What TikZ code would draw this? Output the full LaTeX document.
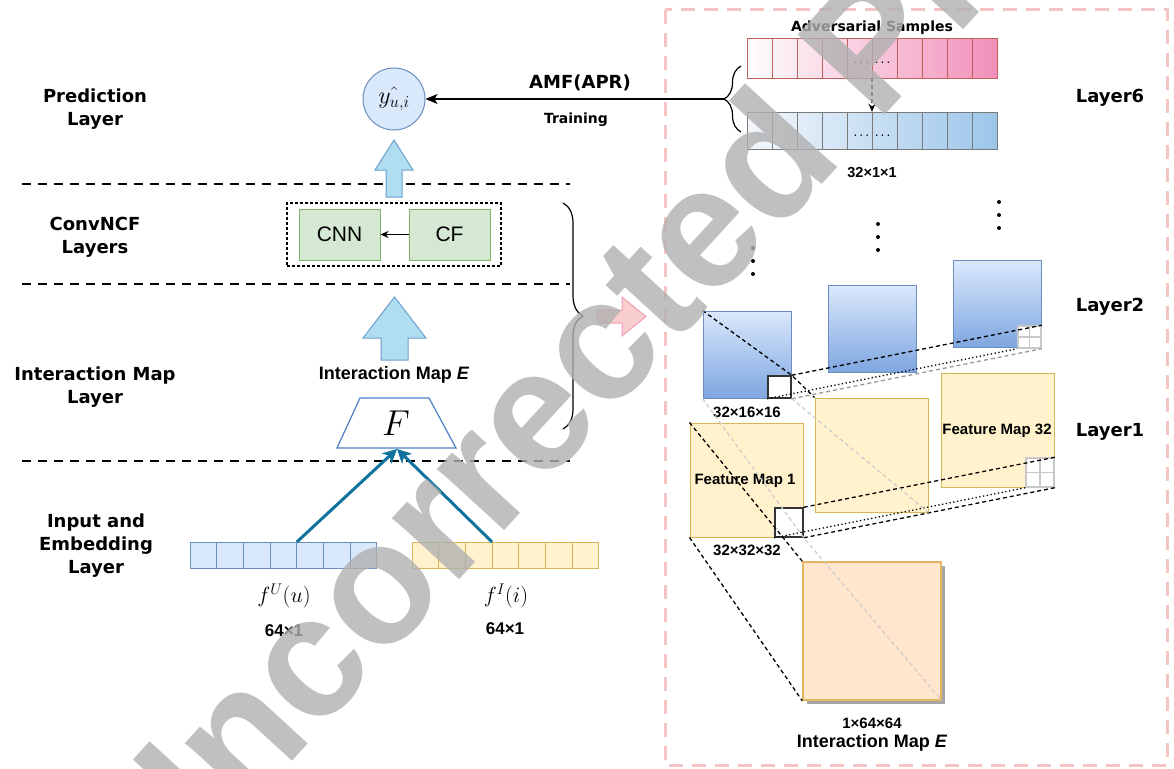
\RequirePackage{fix-cm}
\documentclass[tikz,border=0pt]{standalone}
\usepackage{fontspec}
\setmainfont{DejaVu Sans}
\newfontfamily\lib{Liberation Sans}
\usetikzlibrary{arrows.meta,decorations.pathreplacing}
\definecolor{bluefill}{HTML}{DAE8FC}
\definecolor{bluedraw}{HTML}{6C8EBF}
\definecolor{greenfill}{HTML}{D5E8D4}
\definecolor{greendraw}{HTML}{82B366}
\definecolor{yelfill}{HTML}{FFF2CC}
\definecolor{yeldraw}{HTML}{D6B656}
\definecolor{arrowfill}{HTML}{B1DDF0}
\definecolor{arrowdraw}{HTML}{6A9FD0}
\definecolor{trapdraw}{HTML}{4A80C6}
\definecolor{myteal}{HTML}{10739E}
\definecolor{pinkfill}{HTML}{F8CECC}
\definecolor{pinkdraw}{HTML}{F19CBB}
\definecolor{framepink}{HTML}{F5C4C4}
\definecolor{orfill}{HTML}{FFE6CC}
\definecolor{ordraw}{HTML}{E5B55F}
\definecolor{advdraw}{HTML}{C0605C}
\definecolor{advright}{HTML}{F190BA}
\definecolor{vecleft}{HTML}{F4F7FB}
\definecolor{vecright}{HTML}{9CC6EA}
\definecolor{vecdraw}{HTML}{7A7A7A}
\definecolor{ltwobottom}{HTML}{7EA6E0}
\definecolor{gridgray}{HTML}{C8C8C8}
\definecolor{midgray}{HTML}{9A9A9A}
\definecolor{lightgray}{HTML}{CCCCCC}
\definecolor{wmgray}{HTML}{B0B0B0}
\begin{document}
\begin{tikzpicture}[x=1pt,y=-1pt,
  sepline/.style={line width=2pt, dash pattern=on 9pt off 7pt},
  lbl/.style={align=center, inner sep=0pt, font=\fontsize{18}{23}\selectfont\bfseries},
  dv/.style={inner sep=0pt, font=\fontsize{#1}{#1}\selectfont\bfseries},
  lb/.style={inner sep=0pt, font=\lib\fontsize{#1}{#1}\selectfont\bfseries},
  mth/.style={inner sep=0pt, font=\fontsize{#1}{#1}\selectfont},
  blockarrow/.style={fill=arrowfill, draw=arrowdraw, line width=1pt, line join=miter},
  gbox/.style={draw=greendraw, fill=greenfill, line width=1pt, minimum width=81pt, minimum height=51pt, inner sep=0pt, font=\lib\fontsize{21}{21}\selectfont},
  tealarrow/.style={draw=myteal, line width=3pt, -{Stealth[length=14pt,width=14pt,inset=4pt]}},
  ltwosq/.style={draw=bluedraw, line width=1pt, top color=bluefill, bottom color=ltwobottom, minimum width=88pt, minimum height=87pt, inner sep=0pt},
  lonesq/.style={draw=yeldraw, line width=1pt, fill=yelfill, minimum width=113pt, minimum height=114pt, inner sep=0pt},
  smallbox/.style={draw=black!80, line width=1.5pt, fill=white, inner sep=0pt},
  gridbox/.style={draw=gridgray, line width=1.5pt, fill=white, inner sep=0pt},
  blackdash/.style={black, line width=1.3pt, dash pattern=on 4pt off 3pt},
  dotline/.style={black, line width=1.3pt, dash pattern=on 1.3pt off 2.5pt},
  graydash/.style={midgray, line width=1.3pt, dash pattern=on 4pt off 3pt},
  lgraydash/.style={lightgray, line width=1.2pt, dash pattern=on 4pt off 3pt},
  vdot/.style={circle, fill=black, inner sep=0pt, minimum size=4pt}
]
\useasboundingbox (0,0) rectangle (1174,768);

% ---------- separators ----------
\draw[sepline] (22,184) -- (570,184);
\draw[sepline] (22,284) -- (570,284);
\draw[sepline] (22,461) -- (570,461);

% ---------- left labels ----------
\node[lbl] (predlbl) at (95,109) {Prediction\\Layer};
\node[lbl] (convlbl) at (95,237) {ConvNCF\\Layers};
\node[lbl] (imlbl) at (95,387) {Interaction Map\\Layer};
\node[lbl] (inlbl) at (96,546) {Input and\\Embedding\\Layer};

% ---------- prediction ----------
\node[circle, draw=bluedraw, fill=bluefill, line width=1pt, minimum size=62pt, inner sep=0pt, font=\fontsize{24}{24}\selectfont] (pred) at (394,99) {$\hat{y_{u,i}}$};

% block arrows
\draw[blockarrow] (394,140) -- (413,170) -- (402,170) -- (402,197) -- (386,197) -- (386,170) -- (375,170) -- cycle;
\draw[blockarrow] (394.5,297) -- (426,338) -- (408,338) -- (408,360) -- (381,360) -- (381,338) -- (363,338) -- cycle;

% ConvNCF box
\node[draw, dash pattern=on 3pt off 2pt, line width=1.2pt, minimum width=214pt, minimum height=63pt, inner sep=0pt] (convbox) at (394,234.5) {};
\node[gbox] (cnn) at (339.5,234.5) {CNN};
\node[gbox] (cf) at (449.5,234.5) {CF};
\draw[line width=1.2pt, -{Stealth[length=8pt,width=7pt]}] (cf) -- (cnn);

% interaction map label + F
\node[lb=18] (imtext) at (394,375) {Interaction Map \textit{E}};
\draw[draw=trapdraw, line width=1.2pt, fill=white] (360,398) -- (429,398) -- (456,448) -- (337,448) -- cycle;
\node[mth=36] (Flbl) at (396,423) {$F$};
\coordinate (Fbot) at (397,449);

% input vectors
\foreach \i in {0,...,6} {
  \draw[draw=bluedraw, fill=bluefill, line width=1pt] (190+26.7*\i,542) rectangle ++(26.7,26);
  \draw[draw=yeldraw, fill=yelfill, line width=1pt] (412+26.7*\i,542) rectangle ++(26.7,26);
}
\coordinate (ustart) at (296.8,542);
\coordinate (istart) at (492.1,542);
\draw[tealarrow] (ustart) -- (Fbot);
\draw[tealarrow] (istart) -- (Fbot);
\node[mth=22] (fu) at (284,596) {$f^U(u)$};
\node[mth=22] (fi) at (506,596) {$f^I(i)$};
\node[lb=17] (fudim) at (284,631) {64×1};
\node[lb=17] (fidim) at (505,629) {64×1};

% brace + pink arrow
\draw[line width=1.2pt, decorate, decoration={brace, amplitude=20pt}] (563,203) -- (563,429);
\draw[fill=pinkfill, draw=pinkdraw, line width=1pt] (597,310) -- (622,310) -- (622,297) -- (646,316.5) -- (622,336) -- (622,323) -- (597,323) -- cycle;

% ---------- right panel ----------
\draw[framepink, line width=3pt, dash pattern=on 14pt off 9pt] (665,10) rectangle (1167,765);

\node[dv=14] (advlbl) at (872,28) {Adversarial Samples};
\node[minimum width=250pt, minimum height=39pt, inner sep=0pt, left color=white, right color=advright] (adv) at (872,58.5) {};
\foreach \i in {0,...,9} \draw[advdraw, line width=1pt] (747+25*\i,39) rectangle ++(25,39);
\node[minimum width=250pt, minimum height=37pt, inner sep=0pt, left color=vecleft, right color=vecright] (vec) at (872,130.5) {};
\foreach \i in {0,...,9} \draw[vecdraw, line width=1pt] (747+25*\i,112) rectangle ++(25,37);
\node[mth=12] (advdots) at (872,63) {.\,.\,.\ \,.\,.\,.};
\node[mth=12] (vecdots) at (872,136) {.\,.\,.\ \,.\,.\,.};
\draw[line width=1.2pt, dash pattern=on 4pt off 3pt, -{Stealth[length=8pt,width=7pt]}] (adv.south) -- (vec.north);
\node[lb=14.5] (vecdim) at (872,173) {32×1×1};

\draw[line width=1.2pt, decorate, decoration={brace, amplitude=17pt}] (741,132) -- (741,66);
\coordinate (btip) at (724,99);
\draw[line width=1.2pt, -{Stealth[length=12pt,width=10pt,inset=3pt]}] (btip) -- (pred);
\node[dv=18] (amf) at (580,83) {AMF(APR)};
\node[dv=14] (train) at (576,120) {Training};

\node[dv=18] (l6) at (1110,98) {Layer6};
\node[dv=18] (l2) at (1110,307) {Layer2};
\node[dv=18] (l1) at (1110,432) {Layer1};

% vertical dots
\foreach \y in {248,261,274} \node[vdot] at (753,\y) {};
\foreach \y in {224,237,250} \node[vdot] at (878,\y) {};
\foreach \y in {202,215,228} \node[vdot] at (999,\y) {};

% layer 2 squares
\node[ltwosq] (sqc) at (997,304) {};
\node[ltwosq] (sqb) at (872,329) {};
\node[ltwosq] (sqa) at (747,354.5) {};
\node[smallbox, minimum width=23pt, minimum height=22pt] (btwo) at (779.5,387) {};
\node[gridbox, minimum width=23pt, minimum height=22pt] (gtwo) at (1029.5,337) {};
\draw[gridgray, line width=1.2pt] (gtwo.north) -- (gtwo.south) (gtwo.west) -- (gtwo.east);
\node[lb=15] (d2) at (747,412) {32×16×16};

% layer 1 squares
\node[lonesq] (ysc) at (997.5,430) {};
\node[lonesq] (ysb) at (871.5,455) {};
\node[lonesq] (ysa) at (746.5,480) {};
\node[smallbox, minimum width=28pt, minimum height=29pt] (bone) at (789,522.5) {};
\node[gridbox, minimum width=28pt, minimum height=29pt] (gone) at (1040,472.5) {};
\draw[gridgray, line width=1.2pt] (gone.north) -- (gone.south) (gone.west) -- (gone.east);
\node[lb=15] (fm1) at (745,481) {Feature Map 1};
\node[lb=15] (fm32) at (997,431) {Feature Map 32};
\node[lb=15] (d1) at (747,550) {32×32×32};

% interaction map
\fill[black!35] (807,566) rectangle (945,704);
\node[draw=ordraw, fill=orfill, line width=1.5pt, minimum width=138pt, minimum height=138pt, inner sep=0pt] (im) at (872,631) {};
\node[lb=15] (d0) at (872,723) {1×64×64};
\node[lb=18] (imbot) at (872,743) {Interaction Map \textit{E}};

% projection lines
\draw[blackdash] (btwo.north east) -- (gtwo.north east);
\draw[dotline] (btwo.south west) -- (gtwo.south west);
\draw[graydash] (btwo.south east) -- (gtwo.south east);
\draw[blackdash] (bone.north east) -- (gone.north east);
\draw[dotline] (bone.south west) -- (gone.south west);
\draw[blackdash] (bone.south east) -- (gone.south east);
\draw[blackdash] (sqa.north west) -- (btwo.north east) -- (ysb.north west);
\draw[lgraydash] (sqa.south west) -- (bone.south east) -- (im.south east);
\draw[lgraydash] (sqa.south east) -- (ysb.south east);
\draw[blackdash] (ysa.north west) -- (im.north west);
\draw[blackdash] (ysa.south west) -- (im.south west);

% watermark
\node[rotate=47.5, anchor=mid, inner sep=0pt, text=wmgray, text opacity=0.8, font=\lib\fontsize{172}{172}\selectfont\bfseries] (wm) at (669,347) {Uncorrected Proof};
\end{tikzpicture}
\end{document}
